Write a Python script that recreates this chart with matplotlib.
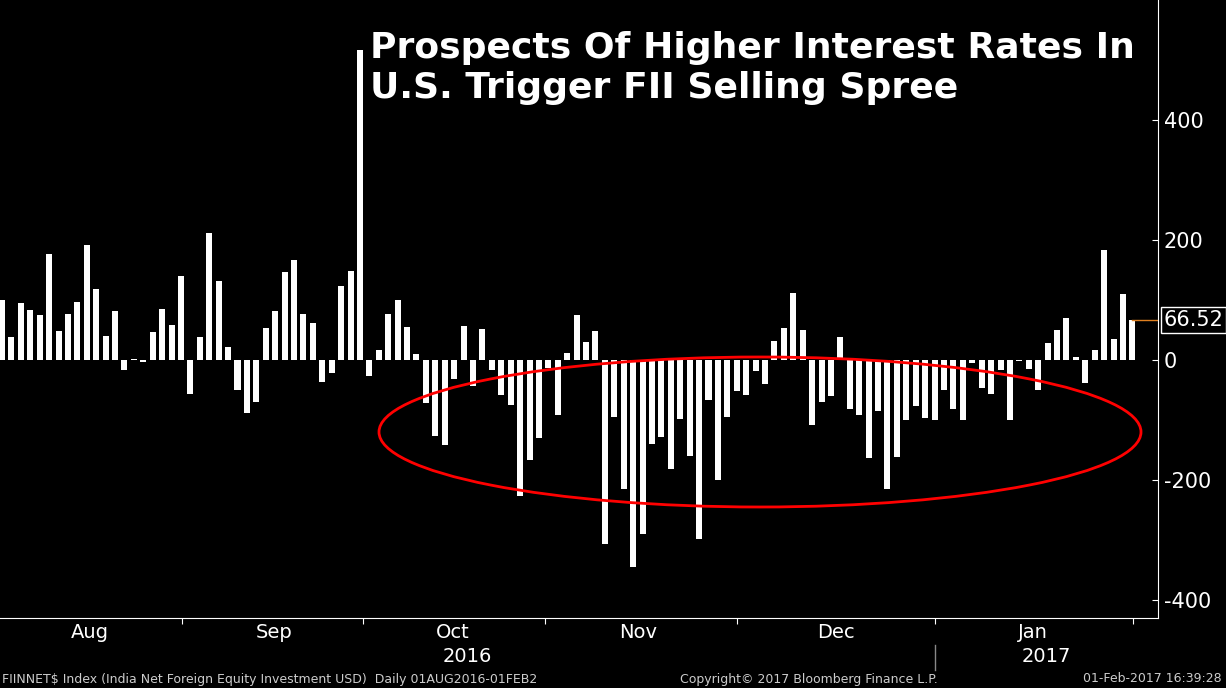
import numpy as np
import matplotlib.pyplot as plt
from matplotlib.patches import Ellipse

plt.rcParams['axes.unicode_minus'] = False

# Daily net FII flows (USD mn), 01AUG2016 - 01FEB2017
valores = [
    100, 39, 95, 83, 75, 177, 48, 77, 97, 192, 118, 40, 81, -17, 1, -3, 47, 85, 58, 140,
    -57, 39, 212, 132, 22, -50, -88, -70, 53, 82, 147, 167, 77, 62, -37, -22, 123, 148, 517, -27,
    17, 77, 100,
    55, 10, -72, -127, -142, -32, 57, -43, 52, -17, -58, -75, -227, -167, -130, -13, -92, 12, 75, 30,
    48, -307, -95, -215, -345, -290, -140, -128, -182, -98, -160, -298, -67, -200, -95, -52, -58, -18, -40, 32,
    53, 112, 50, -108, -70, -60, 38, -82, -92, -163, -85, -215, -162, -100, -77, -97, -100, -50, -82, -100,
    -5, -47, -57, -17, -100, -2, -15, -50, 28, 50, 70, 5, -38, 17, 183, 35, 110, 67,
]
ultimo_valor = 66.52
meses = ['Aug', 'Sep', 'Oct', 'Nov', 'Dec', 'Jan']
anos = ['2016', '2017']

px = 9.42  # pixels per bar in the original
def pos(p):
    return (p - 2) / px

x = np.arange(len(valores))
fig = plt.figure(figsize=(12.26, 6.88), dpi=100, facecolor='black')
ax = fig.add_axes([0, 1 - 618 / 688, 1158 / 1226, 618 / 688])
ax.set_facecolor('black')
ax.bar(x, valores, width=0.64, color='white')
ax.set_xlim(pos(0), pos(1158))
ax.set_ylim(-430, 600)

# Eixo Y à direita
ax.yaxis.tick_right()
ax.set_yticks([-400, -200, 0, 200, 400])
ax.tick_params(axis='y', colors='white', labelsize=15, length=4, direction='in', pad=4)
for s in ['left', 'top']:
    ax.spines[s].set_visible(False)
for s in ['right', 'bottom']:
    ax.spines[s].set_color('white')

# Meses no eixo X
fronteiras = [pos(p) for p in [182, 363, 545, 737, 935, 1133]]
ax.set_xticks(fronteiras)
ax.set_xticklabels([])
ax.tick_params(axis='x', colors='white', length=4, direction='out')
for m, p in zip(meses, [90, 274, 453, 638, 836, 1033]):
    fig.text(p / 1226, 1 - 633 / 688, m, color='white', fontsize=14, ha='center', va='center')
for a, p in zip(anos, [467, 1046]):
    fig.text(p / 1226, 1 - 657 / 688, a, color='white', fontsize=14, ha='center', va='center')
fig.add_artist(plt.Line2D([935 / 1226] * 2, [1 - 645 / 688, 1 - 670 / 688], color='#888888', lw=1))

# Último valor
ax.plot([len(valores) - 1, pos(1158)], [ultimo_valor] * 2, color='#e08020', lw=1)
ax.text(1.005, ultimo_valor, f'{ultimo_valor:.2f}', transform=ax.get_yaxis_transform(),
        color='white', fontsize=15, va='center', ha='left', clip_on=False,
        bbox=dict(facecolor='black', edgecolor='white', pad=2))

# Elipse vermelha
ax.add_patch(Ellipse((pos(760), -120), 762 / px, 250, fill=False, edgecolor='red', lw=2))

# Título
fig.text(370 / 1226, 1 - 68 / 688,
         'Prospects Of Higher Interest Rates In\nU.S. Trigger FII Selling Spree',
         color='white', fontsize=26, fontweight='bold', ha='left', va='center', linespacing=1.2)

# Rodapé
fig.text(2 / 1226, 1 - 679 / 688, 'FIINNET$ Index (India Net Foreign Equity Investment USD)  Daily 01AUG2016-01FEB2',
         color='#cccccc', fontsize=9, ha='left', va='center')
fig.text(680 / 1226, 1 - 679 / 688, 'Copyright\u00a9 2017 Bloomberg Finance L.P.',
         color='#cccccc', fontsize=9, ha='left', va='center')
fig.text(1222 / 1226, 1 - 679 / 688, '01-Feb-2017 16:39:28',
         color='#cccccc', fontsize=9, ha='right', va='center')

plt.savefig('out.png', dpi=100, facecolor='black')
